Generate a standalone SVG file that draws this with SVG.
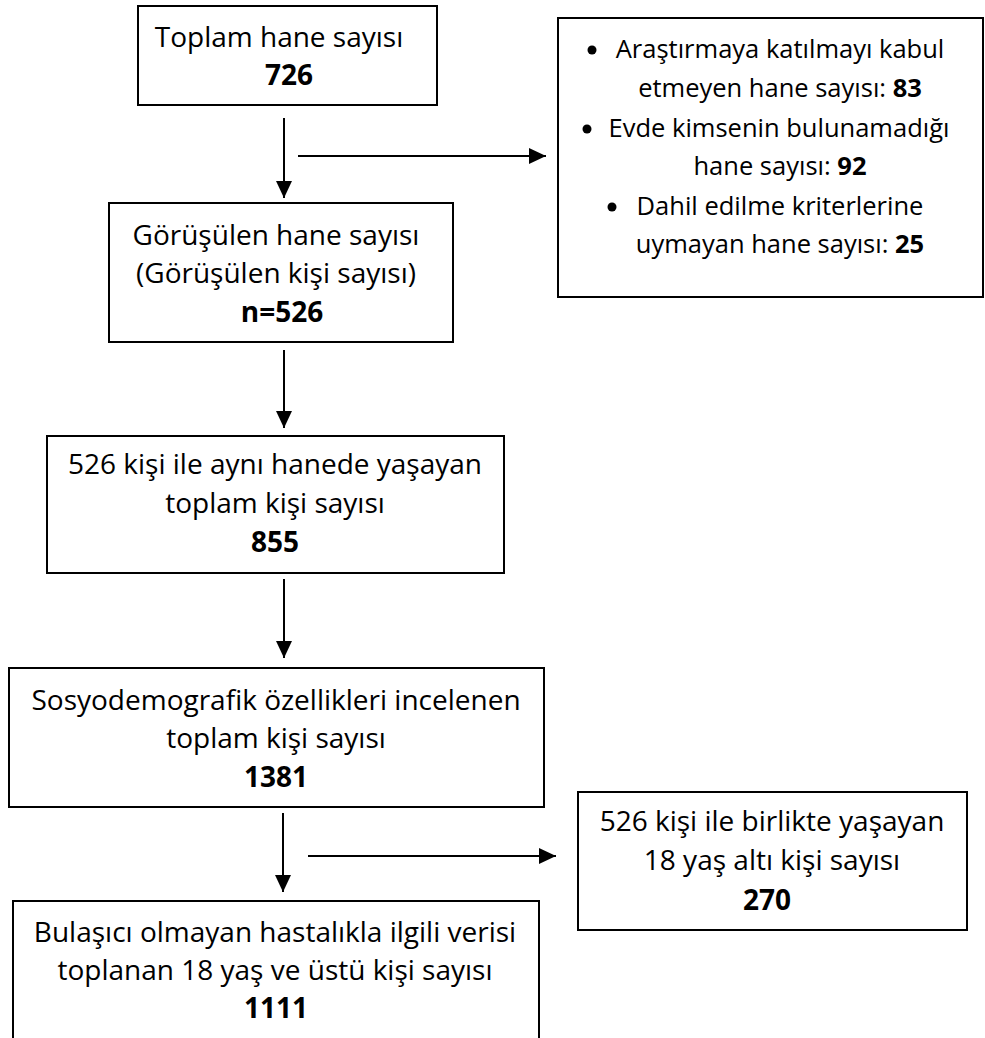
<svg xmlns="http://www.w3.org/2000/svg" width="985" height="1038" viewBox="0 0 985 1038">
<style>
.box{fill:#fff;stroke:#000;stroke-width:2}
.t{font-family:"Open Sans","Noto Sans","Liberation Sans",sans-serif;font-size:28px;fill:#000}
.s{font-size:25.5px}
.m{text-anchor:middle}
.b{font-weight:bold}
.conn{stroke:#000;stroke-width:2;fill:none}
</style>
<defs>
<marker id="ah" markerUnits="userSpaceOnUse" markerWidth="17" markerHeight="16" refX="17" refY="8" orient="auto">
<path d="M0,0 L17,8 L0,16 z" fill="#000"/>
</marker>
</defs>
<rect width="985" height="1038" fill="#fff"/>
<g id="connectors">
<line class="conn" x1="284" y1="118" x2="284" y2="198" marker-end="url(#ah)"/>
<line class="conn" x1="298" y1="156" x2="546" y2="156" marker-end="url(#ah)"/>
<line class="conn" x1="284" y1="350" x2="284" y2="428" marker-end="url(#ah)"/>
<line class="conn" x1="284" y1="579" x2="284" y2="658" marker-end="url(#ah)"/>
<line class="conn" x1="283" y1="813" x2="283" y2="892" marker-end="url(#ah)"/>
<line class="conn" x1="308" y1="856" x2="556" y2="856" marker-end="url(#ah)"/>
</g>
<g id="n1">
<rect class="box" x="138" y="6" width="299" height="99"/>
<text class="t m" x="279" y="47">Toplam hane sayısı</text>
<text class="t m b" x="289" y="85">726</text>
</g>
<g id="n2">
<rect class="box" x="558" y="18" width="425" height="279"/>
<circle cx="592" cy="50" r="4.5" fill="#000"/>
<text class="t s m" x="780" y="58">Araştırmaya katılmayı kabul</text>
<text class="t s m" x="780" y="97">etmeyen hane sayısı: <tspan class="b">83</tspan></text>
<circle cx="587" cy="129" r="4.5" fill="#000"/>
<text class="t s m" x="779" y="137">Evde kimsenin bulunamadığı</text>
<text class="t s m" x="780" y="175">hane sayısı: <tspan class="b">92</tspan></text>
<circle cx="612" cy="207" r="4.5" fill="#000"/>
<text class="t s m" x="780" y="215">Dahil edilme kriterlerine</text>
<text class="t s m" x="780" y="253">uymayan hane sayısı: <tspan class="b">25</tspan></text>
</g>
<g id="n3">
<rect class="box" x="109" y="203" width="344" height="139"/>
<text class="t m" x="276" y="245">Görüşülen hane sayısı</text>
<text class="t m" x="276" y="283">(Görüşülen kişi sayısı)</text>
<text class="t m b" x="282" y="322">n=526</text>
</g>
<g id="n4">
<rect class="box" x="47" y="436" width="457" height="137"/>
<text class="t m" x="275" y="474">526 kişi ile aynı hanede yaşayan</text>
<text class="t m" x="275" y="513">toplam kişi sayısı</text>
<text class="t m b" x="275" y="552">855</text>
</g>
<g id="n5">
<rect class="box" x="9" y="668" width="535" height="139"/>
<text class="t m" x="276" y="710">Sosyodemografik özellikleri incelenen</text>
<text class="t m" x="276" y="748">toplam kişi sayısı</text>
<text class="t m b" x="276" y="787">1381</text>
</g>
<g id="n6">
<rect class="box" x="13" y="901" width="526" height="150"/>
<text class="t m" x="275" y="942">Bulaşıcı olmayan hastalıkla ilgili verisi</text>
<text class="t m" x="275" y="980">toplanan 18 yaş ve üstü kişi sayısı</text>
<text class="t m b" x="276" y="1018">1111</text>
</g>
<g id="n7">
<rect class="box" x="578" y="792" width="389" height="138"/>
<text class="t m" x="772" y="831">526 kişi ile birlikte yaşayan</text>
<text class="t m" x="772" y="870">18 yaş altı kişi sayısı</text>
<text class="t m b" x="767" y="910">270</text>
</g>
</svg>
